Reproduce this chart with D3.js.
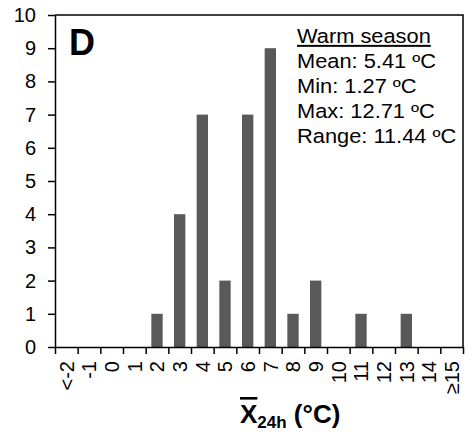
<!DOCTYPE html>
<html>
<head>
<meta charset="utf-8">
<script src="https://cdn.jsdelivr.net/npm/d3@7"></script>
<style>
    html, body {margin: 0; padding: 0; background: #fff;}
    svg {display: block; font-family: "Liberation Sans", Arial, sans-serif;}
    .axis path, .axis line {stroke: #000; stroke-width: 1.5px;}
    .axis text {fill: #000; font-size: 20px;}
</style>
</head>
<body>
<div id="chart"></div>
<script>
const categories = ["<-2", "-1", "0", "1", "2", "3", "4", "5", "6", "7", "8", "9", "10", "11", "12", "13", "14", "≥15"];
const counts = [0, 0, 0, 0, 1, 4, 7, 2, 7, 9, 1, 2, 0, 1, 0, 1, 0, 0];
const yTicks = [0, 1, 2, 3, 4, 5, 6, 7, 8, 9, 10];
const statTitle = "Warm season";
const statLines = ["Mean: 5.41 ºC", "Min: 1.27 ºC", "Max: 12.71 ºC", "Range: 11.44 ºC"];

const margin = {top: 15, right: 9, bottom: 87, left: 55},
    width = 472 - margin.left - margin.right,
    height = 434 - margin.top - margin.bottom;

function show(selHolder) {
    const svg = d3.select(selHolder)
        .append("svg")
        .attr("width", width + margin.left + margin.right)
        .attr("height", height + margin.top + margin.bottom);

    const g = svg.append("g")
        .attr("transform", "translate(" + margin.left + "," + margin.top + ")");

    const x = d3.scaleBand()
        .domain(categories)
        .range([0, width])
        .paddingInner(0.5)
        .paddingOuter(0.25);

    // ticks sit on the bin edges, not on the bars
    const xEdge = d3.scaleLinear()
        .domain([0, categories.length])
        .range([0, width]);

    const y = d3.scaleLinear()
        .domain([0, 10])
        .range([height, 0]);

    // frame top + right
    g.append("path")
        .attr("d", "M0,0H" + width + "V" + height)
        .attr("fill", "none")
        .attr("stroke", "#000")
        .attr("stroke-width", 1.5);

    g.selectAll(".bar")
        .data(counts)
        .enter().append("rect")
        .attr("class", "bar")
        .attr("x", (d, i) => x(categories[i]))
        .attr("width", x.bandwidth())
        .attr("y", d => y(d))
        .attr("height", d => height - y(d))
        .attr("fill", "#595959");

    g.append("g")
        .attr("class", "axis")
        .call(d3.axisLeft(y).tickValues(yTicks).tickSize(7).tickSizeOuter(0).tickPadding(12));

    g.append("g")
        .attr("class", "axis")
        .attr("transform", "translate(0," + height + ")")
        .call(d3.axisBottom(xEdge).tickValues(d3.range(categories.length + 1)).tickSize(7).tickSizeOuter(0).tickFormat(""));

    const xl = g.append("g")
        .attr("class", "axis")
        .attr("transform", "translate(0," + height + ")")
        .call(d3.axisBottom(x).tickSize(0).tickSizeOuter(0));
    xl.select(".domain").remove();
    xl.selectAll("text")
        .attr("transform", "rotate(-90)")
        .attr("text-anchor", "end")
        .attr("x", -14)
        .attr("y", 0)
        .attr("dy", "0.36em");

    // panel letter
    g.append("text")
        .attr("x", 14)
        .attr("y", 40)
        .attr("font-size", 36)
        .attr("font-weight", "bold")
        .text("D");

    // summary stats
    const st = g.append("g")
        .attr("transform", "translate(242,28) scale(1.12,1)")
        .attr("font-size", 19.5);
    st.append("text")
        .attr("y", 0)
        .attr("text-decoration", "underline")
        .text(statTitle);
    st.selectAll(".stat")
        .data(statLines)
        .enter().append("text")
        .attr("class", "stat")
        .attr("y", (d, i) => 25 * (i + 1))
        .text(d => d);

    // x title: X-bar sub 24h (°C)
    const t = svg.append("text")
        .attr("x", 240)
        .attr("y", 423)
        .attr("font-size", 26)
        .attr("font-weight", "bold");
    t.append("tspan").attr("text-decoration", "overline").text("X");
    t.append("tspan").attr("font-size", 17).attr("dy", 5).text("24h");
    t.append("tspan").attr("dy", -5).text(" (°C)");
}

show("#chart");
</script>
</body>
</html>
